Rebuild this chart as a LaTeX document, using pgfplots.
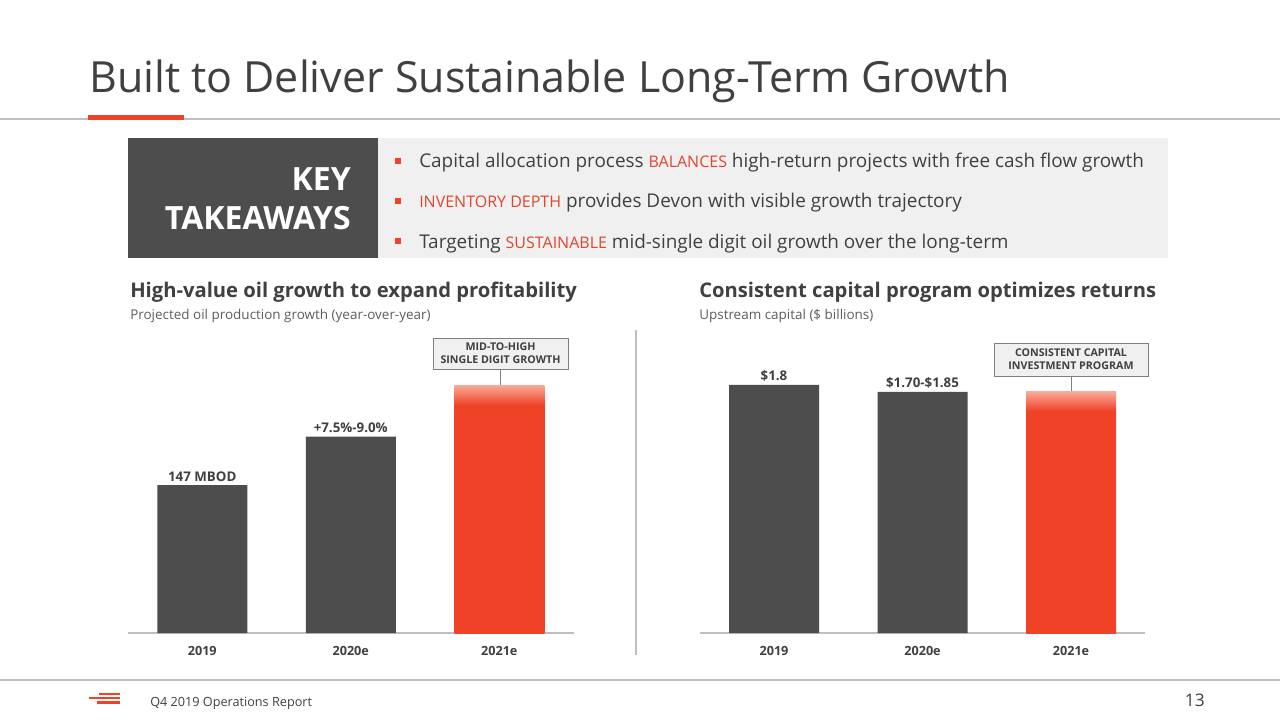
\documentclass[border=0pt]{standalone}
\usepackage{pgfplots}
\pgfplotsset{compat=1.18}
\usepackage{fontspec}
\setmainfont{Open Sans}
\definecolor{devred}{HTML}{F04226}
\definecolor{devdark}{HTML}{4D4D4D}
\definecolor{txtgray}{HTML}{404040}
\definecolor{linegray}{HTML}{BFBFBF}
\definecolor{boxgray}{HTML}{F0F0F0}
\definecolor{lightred}{HTML}{F9A898}
\definecolor{wordred}{HTML}{E0452F}
\definecolor{boxline}{HTML}{7F7F7F}
\pgfdeclareverticalshading{barfade}{100bp}{color(0bp)=(devred); color(71bp)=(devred); color(75bp)=(lightred); color(100bp)=(lightred)}
\newcommand{\fs}[1]{\fontsize{#1}{#1}\selectfont}
\begin{document}
\begin{tikzpicture}
\path[use as bounding box, fill=white] (0,0) rectangle (960pt,-540pt);
\begin{scope}[x=0.75pt,y=-0.75pt]
% title
\node[anchor=base west, inner sep=0pt, text=txtgray] at (89,93) {\fs{32.2}Built to Deliver Sustainable Long-Term Growth};
\draw[linegray, line width=1.2pt] (0,119) -- (1280,119);
\fill[devred] (88,115) rectangle (184,120);
% key takeaways
\fill[devdark] (128,138) rectangle (378,258);
\fill[boxgray] (378,138) rectangle (1168,258);
\node[anchor=base east, inner sep=0pt, text=white, font=\bfseries\fs{24}] at (351,191) {KEY};
\node[anchor=base east, inner sep=0pt, text=white, font=\bfseries\fs{24}] at (351,229) {TAKEAWAYS};
\foreach \yy in {161,201,241} {\fill[devred] (394.5,\yy-3) rectangle (400.5,\yy+3);}
\node[anchor=base west, inner sep=0pt, text=txtgray, font=\fs{14.2}] at (419,168) {Capital allocation process {\color{wordred}\fs{12}BALANCES} high-return projects with free cash flow growth};
\node[anchor=base west, inner sep=0pt, text=txtgray, font=\fs{14.2}] at (419,208) {{\color{wordred}\fs{12}INVENTORY DEPTH} provides Devon with visible growth trajectory};
\node[anchor=base west, inner sep=0pt, text=txtgray, font=\fs{14.2}] at (419,248) {Targeting {\color{wordred}\fs{12}SUSTAINABLE} mid-single digit oil growth over the long-term};
% chart titles
\node[anchor=base west, inner sep=0pt, text=txtgray, font=\bfseries\fs{15.15}] at (130,297) {High-value oil growth to expand profitability};
\node[anchor=base west, inner sep=0pt, text=txtgray!85, font=\fs{10.1}] at (130,319) {Projected oil production growth (year-over-year)};
\node[anchor=base west, inner sep=0pt, text=txtgray, font=\bfseries\fs{15.15}] at (699,297) {Consistent capital program optimizes returns};
\node[anchor=base west, inner sep=0pt, text=txtgray!85, font=\fs{10.1}] at (699,319) {Upstream capital (\$ billions)};
\draw[linegray, line width=0.9pt] (636,330) -- (636,655);
% annotations
\draw[boxline, line width=0.7pt] (500,369) -- (500,385);
\draw[boxline, line width=0.7pt, fill=boxgray] (433,338) rectangle (568,369);
\node[align=center, text=txtgray, font=\bfseries\fontsize{8}{9.6}\selectfont, inner sep=0pt] at (500.5,353.5) {MID-TO-HIGH\\SINGLE DIGIT GROWTH};
\draw[boxline, line width=0.7pt] (1071,376) -- (1071,392);
\draw[boxline, line width=0.7pt, fill=boxgray] (994,343) rectangle (1148,376);
\node[align=center, text=txtgray, font=\bfseries\fontsize{8}{9.6}\selectfont, inner sep=0pt] at (1071,359.5) {CONSISTENT CAPITAL\\INVESTMENT PROGRAM};
% footer
\draw[linegray, line width=1.2pt] (0,680) -- (1280,680);
\fill[devred] (99,692.5) rectangle (120,695.3);
\fill[devred] (89,696.6) rectangle (120,699.4);
\fill[devred] (97,700.7) rectangle (120,703.5);
\node[anchor=base west, inner sep=0pt, text=txtgray, font=\fs{9.5}] at (150,706) {Q4 2019 Operations Report};
\node[anchor=base east, inner sep=0pt, text=txtgray, font=\fs{13}] at (1205,706) {13};
\end{scope}
% left chart
\begin{axis}[
  at={(96pt,-474.75pt)}, anchor=south west,
  scale only axis, width=334.125pt, height=225pt,
  xmin=-0.5, xmax=2.5, ymin=0, ymax=298,
  axis x line*=bottom, axis y line=none,
  x axis line style={linegray, line width=1.1pt, -},
  xtick={0,1,2}, xticklabels={2019,2020e,2021e},
  major tick length=0pt, ytick=\empty,
  xticklabel style={font=\bfseries\fs{9.5}, text=txtgray, yshift=-6.5pt},
  ybar, clip=false,
]
\addplot[fill=devdark, draw=none, bar width=67.5pt, bar shift=0pt,
  nodes near coords, point meta=explicit symbolic,
  nodes near coords style={font=\bfseries\fs{10}, text=txtgray, inner sep=2.5pt}]
  coordinates {(0,147) [147 MBOD] (1,195) [+7.5\%-9.0\%]};
\addplot[draw=none, shade, shading=barfade, bar width=67.5pt, bar shift=0pt]
  coordinates {(2,246)};
\end{axis}
% right chart
\begin{axis}[
  at={(524.81pt,-474.75pt)}, anchor=south west,
  scale only axis, width=334.125pt, height=225pt,
  xmin=-0.5, xmax=2.5, ymin=0, ymax=2.177,
  axis x line*=bottom, axis y line=none,
  x axis line style={linegray, line width=1.1pt, -},
  xtick={0,1,2}, xticklabels={2019,2020e,2021e},
  major tick length=0pt, ytick=\empty,
  xticklabel style={font=\bfseries\fs{9.5}, text=txtgray, yshift=-6.5pt},
  ybar, clip=false,
]
\addplot[fill=devdark, draw=none, bar width=67.5pt, bar shift=0pt,
  nodes near coords, point meta=explicit symbolic,
  nodes near coords style={font=\bfseries\fs{10}, text=txtgray, inner sep=2.5pt}]
  coordinates {(0,1.8) [\$1.8] (1,1.75) [\$1.70-\$1.85]};
\addplot[draw=none, shade, shading=barfade, bar width=67.5pt, bar shift=0pt]
  coordinates {(2,1.75)};
\end{axis}
\end{tikzpicture}
\end{document}
